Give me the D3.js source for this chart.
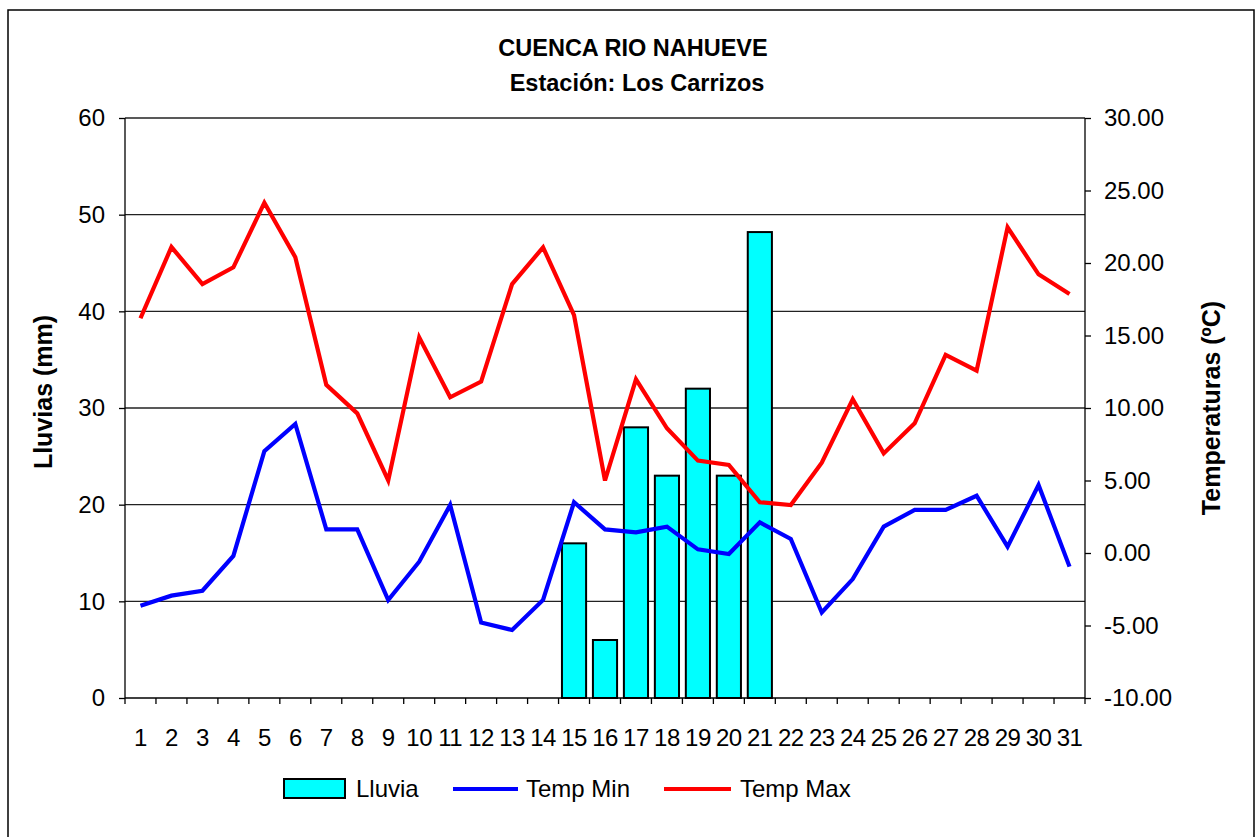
<!DOCTYPE html>
<html lang="es">
<head>
<meta charset="utf-8">
<title>Cuenca Rio Nahueve</title>
<script src="https://cdn.jsdelivr.net/npm/d3@7"></script>
<style>
  body { margin: 0; background: #fff; }
  text { font-family: Arial, "Liberation Sans", sans-serif; fill: #000; }
  .grid line { stroke: #222; stroke-width: 1.3; }
  .axis path, .axis line { stroke: #000; stroke-width: 1.3; fill: none; }
</style>
</head>
<body>
<script>
// data
var dias = d3.range(1, 32).map(String);
var lluvia = [0,0,0,0,0,0,0,0,0,0,0,0,0,0,16,6,28,23,32,23,48.2,0,0,0,0,0,0,0,0,0,0];
var tempMin = [-3.63,-2.94,-2.6,-0.2,7.03,8.9,1.63,1.63,-3.24,-0.6,3.31,-4.8,-5.31,-3.24,3.5,
               1.63,1.43,1.82,0.25,-0.07,2.11,0.97,-4.1,-1.8,1.82,2.97,2.97,3.95,0.44,4.69,-0.94];
var tempMax = [16.19,21.1,18.55,19.7,24.16,20.4,11.6,9.63,5.0,14.87,10.74,11.82,18.55,21.08,16.41,
               5.0,11.98,8.6,6.37,6.07,3.5,3.31,6.23,10.6,6.87,8.94,13.66,12.57,22.46,19.22,17.86];
var lluviaTicks = [0,10,20,30,40,50,60];
var tempTicks = [-10,-5,0,5,10,15,20,25,30];

var W = 1259, H = 837;
var pL = 125, pR = 1085, pT = 118, pB = 698;

var svg = d3.select("body").append("svg").attr("width", W).attr("height", H);

// outer frame
svg.append("rect").attr("x", 8).attr("y", 10).attr("width", 1246).attr("height", 840)
  .attr("fill", "none").attr("stroke", "#000").attr("stroke-width", 1.5);

var x = d3.scaleBand().domain(dias).range([pL, pR]).paddingInner(0.22).paddingOuter(0.11);
var yL = d3.scaleLinear().domain([0, 60]).range([pB, pT]);
var yR = d3.scaleLinear().domain([-10, 30]).range([pB, pT]);

// grid
svg.append("g").attr("class", "grid").selectAll("line").data(lluviaTicks.slice(1)).enter().append("line")
  .attr("x1", pL).attr("x2", pR)
  .attr("y1", function(d){ return yL(d); }).attr("y2", function(d){ return yL(d); });

// bars
svg.append("g").selectAll("rect").data(dias.filter(function(d,i){ return lluvia[i] > 0; })).enter().append("rect")
  .attr("x", function(d){ return x(d); })
  .attr("width", x.bandwidth())
  .attr("y", function(d){ return yL(lluvia[+d - 1]); })
  .attr("height", function(d){ return pB - yL(lluvia[+d - 1]); })
  .attr("fill", "#00ffff").attr("stroke", "#000").attr("stroke-width", 2);

// axes
var f2 = d3.format(".2f");
var axL = d3.axisLeft(yL).tickValues(lluviaTicks).tickSize(6).tickPadding(14).tickFormat(d3.format("d"));
var gL = svg.append("g").attr("class", "axis").attr("transform", "translate(" + pL + ",0)").call(axL);
var axR = d3.axisRight(yR).tickValues(tempTicks).tickSize(6).tickPadding(13)
  .tickFormat(function(d){ return f2(d).replace("\u2212", "-"); });
var gR = svg.append("g").attr("class", "axis").attr("transform", "translate(" + pR + ",0)").call(axR);
gL.select(".domain").attr("d", "M0," + pT + "V" + pB);
gR.select(".domain").attr("d", "M0," + pT + "V" + pB);
gL.selectAll("text").style("font-size", "24px").attr("font-family", null);
gR.selectAll("text").style("font-size", "24px").attr("font-family", null);

// x axis: line, ticks at category boundaries, labels at centres
var gx = svg.append("g").attr("class", "axis");
gx.append("line").attr("x1", pL).attr("x2", pR).attr("y1", pB).attr("y2", pB);
gx.selectAll(".tk").data(d3.range(dias.length + 1)).enter().append("line").attr("class", "tk")
  .attr("x1", function(i){ return pL + i * x.step(); })
  .attr("x2", function(i){ return pL + i * x.step(); })
  .attr("y1", pB).attr("y2", pB + 6);
gx.selectAll("text").data(dias).enter().append("text")
  .attr("x", function(d){ return x(d) + x.bandwidth() / 2; })
  .attr("y", 746)
  .attr("text-anchor", "middle")
  .style("font-size", "24px")
  .style("letter-spacing", "-0.5px")
  .text(function(d){ return d; });

// lines
var line = d3.line().x(function(d, i){ return x(dias[i]) + x.bandwidth() / 2; }).y(function(d){ return yR(d); });
svg.append("path").datum(tempMin).attr("d", line).attr("fill", "none")
  .attr("stroke", "#0000ff").attr("stroke-width", 4.2).attr("stroke-linejoin", "miter");
svg.append("path").datum(tempMax).attr("d", line).attr("fill", "none")
  .attr("stroke", "#ff0000").attr("stroke-width", 4.2).attr("stroke-linejoin", "miter");

// titles
svg.append("text").attr("x", 633).attr("y", 56).attr("text-anchor", "middle")
  .style("font-size", "23.5px").style("font-weight", "bold").text("CUENCA RIO NAHUEVE");
svg.append("text").attr("x", 637).attr("y", 91).attr("text-anchor", "middle")
  .style("font-size", "23.5px").style("font-weight", "bold").text("Estación: Los Carrizos");
svg.append("text").attr("transform", "translate(52,392) rotate(-90)").attr("text-anchor", "middle")
  .style("font-size", "25px").style("font-weight", "bold").text("Lluvias (mm)");
svg.append("text").attr("transform", "translate(1220,408) rotate(-90)").attr("text-anchor", "middle")
  .style("font-size", "25px").style("font-weight", "bold").text("Temperaturas (ºC)");

// legend
var lg = svg.append("g");
lg.append("rect").attr("x", 284).attr("y", 779).attr("width", 61).attr("height", 19)
  .attr("fill", "#00ffff").attr("stroke", "#000").attr("stroke-width", 2);
lg.append("text").attr("x", 356).attr("y", 797).style("font-size", "24px").text("Lluvia");
lg.append("line").attr("x1", 453).attr("x2", 518).attr("y1", 789).attr("y2", 789)
  .attr("stroke", "#0000ff").attr("stroke-width", 4);
lg.append("text").attr("x", 526).attr("y", 797).style("font-size", "24px").text("Temp Min");
lg.append("line").attr("x1", 664).attr("x2", 731).attr("y1", 789).attr("y2", 789)
  .attr("stroke", "#ff0000").attr("stroke-width", 4);
lg.append("text").attr("x", 740).attr("y", 797).style("font-size", "24px").text("Temp Max");
</script>
</body>
</html>
